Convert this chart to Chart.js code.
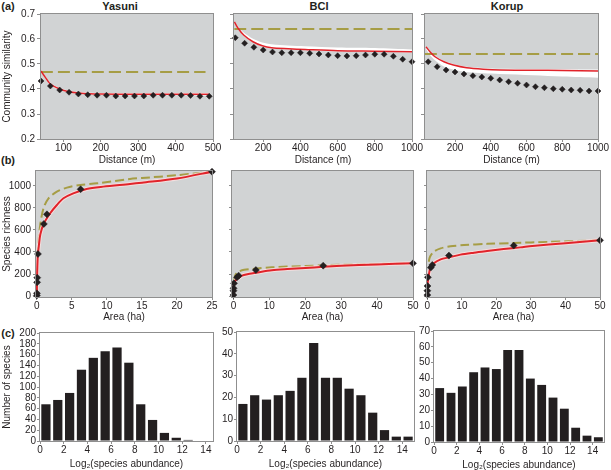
<!DOCTYPE html>
<html>
<head>
<meta charset="utf-8">
<script src="https://cdn.jsdelivr.net/npm/chart.js@4.4.1/dist/chart.umd.min.js"></script>
<style>
html, body { margin: 0; padding: 0; background: #fff; overflow: hidden; }
body { width: 611px; height: 470px; position: relative; font-family: "Liberation Sans", Arial, sans-serif; color: #231f20; }
canvas { position: absolute; }
.lbl { position: absolute; font-weight: bold; font-size: 11px; transform: translate(-50%, -50%); white-space: nowrap; }
</style>
</head>
<body>
<div class="lbl" style="left:8px;top:6px">(a)</div>
<div class="lbl" style="left:120px;top:6px">Yasuni</div>
<div class="lbl" style="left:319px;top:6px">BCI</div>
<div class="lbl" style="left:507px;top:6px">Korup</div>
<div class="lbl" style="left:8px;top:160px">(b)</div>
<div class="lbl" style="left:8px;top:333px">(c)</div>

<canvas id="aYasuni"></canvas>
<canvas id="aBCI"></canvas>
<canvas id="aKorup"></canvas>
<canvas id="bYasuni"></canvas>
<canvas id="bBCI"></canvas>
<canvas id="bKorup"></canvas>
<canvas id="cYasuni"></canvas>
<canvas id="cBCI"></canvas>
<canvas id="cKorup"></canvas>

<script>
// ---- (a) similarity vs distance ----
const distYasuni = [40, 65, 90, 115, 140, 165, 190, 215, 240, 265, 290, 315, 340, 365, 390, 415, 440, 465, 490];
const simYasuni = [0.432, 0.412, 0.396, 0.387, 0.380, 0.377, 0.375, 0.375, 0.372, 0.372, 0.372, 0.372, 0.375, 0.375, 0.375, 0.375, 0.374, 0.371, 0.371];
const distPlot50 = [50, 100, 150, 200, 250, 300, 350, 400, 450, 500, 550, 600, 650, 700, 750, 800, 850, 900, 950, 1000];
const simBCI = [0.605, 0.583, 0.567, 0.556, 0.548, 0.545, 0.545, 0.545, 0.543, 0.540, 0.536, 0.533, 0.532, 0.533, 0.536, 0.539, 0.539, 0.531, 0.519, 0.509];
const simKorup = [0.509, 0.489, 0.476, 0.468, 0.460, 0.453, 0.448, 0.443, 0.436, 0.429, 0.423, 0.416, 0.409, 0.405, 0.401, 0.399, 0.396, 0.395, 0.392, 0.392];

// model fit (red) and its envelope (white)
const fitDistYasuni = [40, 50, 65, 90, 115, 140, 170, 200, 300, 400, 490];
const fitSimYasuni = [0.472, 0.450, 0.420, 0.400, 0.389, 0.384, 0.381, 0.380, 0.379, 0.379, 0.379];
const bandHiYasuni = [0.476, 0.455, 0.425, 0.404, 0.393, 0.388, 0.385, 0.384, 0.383, 0.383, 0.384];
const bandLoYasuni = [0.468, 0.446, 0.416, 0.396, 0.385, 0.380, 0.377, 0.376, 0.375, 0.375, 0.374];

const fitDistBCI = [45, 65, 95, 145, 195, 245, 335, 425, 600, 800, 1000];
const fitSimBCI = [0.669, 0.643, 0.616, 0.589, 0.573, 0.565, 0.561, 0.558, 0.553, 0.551, 0.549];
const bandHiBCI = [0.672, 0.650, 0.626, 0.601, 0.586, 0.579, 0.574, 0.571, 0.566, 0.564, 0.558];
const bandLoBCI = [0.666, 0.640, 0.613, 0.586, 0.570, 0.562, 0.558, 0.555, 0.550, 0.548, 0.546];

const fitDistKorup = [38, 60, 88, 138, 191, 265, 359, 452, 639, 800, 1000];
const fitSimKorup = [0.569, 0.549, 0.529, 0.509, 0.496, 0.485, 0.479, 0.476, 0.475, 0.474, 0.472];
const bandHiKorup = [0.573, 0.553, 0.533, 0.513, 0.500, 0.489, 0.484, 0.481, 0.480, 0.479, 0.478];
const bandLoKorup = [0.560, 0.535, 0.515, 0.490, 0.478, 0.468, 0.463, 0.460, 0.455, 0.450, 0.445];

// random-placement expectation (olive dashed)
const nullDistYasuni = [40, 480];
const nullSimYasuni = [0.468, 0.468];
const nullDistBCI = [45, 1000];
const nullSimBCI = [0.640, 0.640];
const nullDistKorup = [32, 1000];
const nullSimKorup = [0.540, 0.540];

const distTicksYasuni = [100, 200, 300, 400, 500];
const distTicks = [200, 400, 600, 800, 1000];
const simTicks = [0.2, 0.3, 0.4, 0.5, 0.6, 0.7];

// ---- (b) species-area ----
const areaYasuni = [0.0025, 0.01, 0.04, 0.0625, 0.16, 1, 1.44, 6.25, 25];
const richYasuni = [5, 24, 124, 167, 382, 655, 742, 970, 1130];
const areaBCI = [0.0025, 0.01, 0.04, 0.16, 1, 1.44, 6.25, 25, 50];
const richBCI = [9, 48, 70, 115, 170, 185, 236, 276, 297];
const areaKorup = [0.0025, 0.01, 0.04, 0.16, 1, 1.44, 6.25, 25, 50];
const richKorup = [9, 48, 91, 170, 258, 282, 367, 458, 506];

const fitAreaYasuni = [0, 0.03, 0.08, 0.16, 0.3, 0.5, 0.95, 1.9, 2.86, 3.8, 5.2, 7.1, 9.5, 13.3, 15, 20, 25];
const fitRichYasuni = [0, 150, 280, 385, 465, 560, 652, 752, 827, 888, 933, 973, 994, 1018, 1030, 1068, 1130];
const nullAreaYasuni = [0.1, 0.24, 0.48, 0.95, 1.67, 2.86, 4.3, 6.2, 8.6, 13.3, 15, 20, 25];
const nullRichYasuni = [360, 494, 645, 797, 888, 948, 985, 1009, 1024, 1064, 1072, 1098, 1130];

const fitAreaBCI = [0, 0.03, 0.08, 0.16, 0.4, 0.9, 2, 2.9, 4.5, 6.25, 10.7, 15, 20, 25, 30, 40, 50];
const fitRichBCI = [0, 55, 85, 110, 135, 152, 178, 191, 203, 212, 234, 245, 255, 265, 274, 287, 297];
const nullAreaBCI = [0.1, 0.3, 0.6, 1.4, 3, 6, 10.7, 20, 25, 35, 50];
const nullRichBCI = [130, 160, 195, 221, 238, 248, 261, 273, 279, 288, 297];

const fitAreaKorup = [0, 0.03, 0.08, 0.2, 0.5, 0.77, 1.9, 3.85, 6.4, 9.6, 13.5, 17.3, 22.1, 26.9, 30.4, 40, 50];
const fitRichKorup = [0, 70, 110, 150, 205, 242, 297, 333, 352, 376, 394, 409, 427, 442, 455, 479, 506];
const nullAreaKorup = [0.4, 0.77, 1.9, 3.85, 6.7, 10.6, 17.3, 25, 35, 50];
const nullRichKorup = [312, 357, 403, 433, 452, 463, 474, 482, 492, 506];

const areaTicksYasuni = [0, 5, 10, 15, 20, 25];
const areaTicks = [0, 10, 20, 30, 40, 50];
const richTicks = [0, 200, 400, 600, 800, 1000];

// ---- (c) abundance distributions ----
const octaveCentres = [0.5, 1.5, 2.5, 3.5, 4.5, 5.5, 6.5, 7.5, 8.5, 9.5, 10.5, 11.5, 12.5, 13.5, 14.5];
const sppYasuni = [68, 76, 89, 132, 154, 166, 173, 145, 68, 39, 15, 6, 2, 0, 0];
const sppBCI = [17, 21, 19, 21, 23, 29, 45, 29, 29, 24, 21, 13, 5, 2, 2];
const sppKorup = [34, 31, 35, 44, 47, 46, 58, 58, 40, 36, 28, 21, 9, 4, 3];
const octaveTicks = [0, 2, 4, 6, 8, 10, 12, 14];
const sppTicksYasuni = [0, 20, 40, 60, 80, 100, 120, 140, 160, 180, 200];
const sppTicksBCI = [0, 10, 20, 30, 40, 50];
const sppTicksKorup = [0, 10, 20, 30, 40, 50, 60, 70];

// ---- styling ----
const GRAY = '#d1d3d4', FRAME = '#8f8f8f', RED = '#e1232a', OLIVE = '#a69d45', INK = '#231f20';
Chart.defaults.font.family = '"Liberation Sans", Arial, sans-serif';
Chart.defaults.font.size = 10;
Chart.defaults.color = INK;

// plot background and box
Chart.register({
  id: 'frame',
  beforeDraw(chart, args, opts) {
    const a = chart.chartArea, ctx = chart.ctx;
    ctx.save();
    ctx.fillStyle = opts.bg || '#fff';
    ctx.fillRect(a.left, a.top, a.right - a.left, a.bottom - a.top);
    ctx.restore();
  },
  afterDraw(chart) {
    const a = chart.chartArea, ctx = chart.ctx;
    ctx.save();
    ctx.strokeStyle = FRAME;
    ctx.lineWidth = 1;
    ctx.strokeRect(Math.round(a.left) - 0.5, Math.round(a.top) - 0.5, Math.round(a.right - a.left) + 1, Math.round(a.bottom - a.top) + 1);
    ctx.restore();
  }
});

const xy = (xs, ys) => xs.map((x, i) => ({x: x, y: ys[i]}));

function axis(a, size, horizontal) {
  return {
    type: 'linear',
    position: horizontal ? 'bottom' : 'left',
    min: a.min, max: a.max, offset: false,
    border: {display: false},
    grid: {display: true, drawOnChartArea: false, drawTicks: true, tickLength: a.tl || 3, color: FRAME, offset: false},
    ticks: {display: a.labels !== false, padding: a.pad || 0, autoSkip: false, maxRotation: 0, minRotation: 0,
            color: INK, font: {size: 10}, callback: a.fmt || (v => String(v))},
    afterBuildTicks: s => { s.ticks = a.ticks.map(v => ({value: v})); },
    afterFit: s => { if (horizontal) s.height = size; else s.width = size; },
    title: {display: !!a.title, text: a.title || '', color: INK, font: {size: 10},
            padding: horizontal ? {top: 0, bottom: 0} : {top: 1, bottom: 0}}
  };
}

function panel(id, box, pad, cfg) {
  const cv = document.getElementById(id);
  cv.width = box.r - box.l + pad.l + pad.r;
  cv.height = box.b - box.t + pad.t + pad.b;
  cv.style.left = (box.l - pad.l) + 'px';
  cv.style.top = (box.t - pad.t) + 'px';
  return new Chart(cv, {
    type: cfg.type,
    data: {datasets: cfg.datasets},
    options: {
      responsive: false, animation: false, events: [],
      layout: {padding: {left: 0, top: pad.t, right: pad.r, bottom: 0}},
      plugins: {legend: {display: false}, tooltip: {enabled: false}, frame: {bg: cfg.bg}},
      scales: {x: axis(cfg.x, pad.b, true), y: axis(cfg.y, pad.l, false)}
    }
  });
}

const dots = (xs, ys, r) => ({data: xy(xs, ys), showLine: false, pointStyle: 'rectRot', pointRadius: r,
  pointBackgroundColor: INK, pointBorderColor: INK, pointBorderWidth: 0.5, clip: false});
const redLine = (xs, ys, w) => ({data: xy(xs, ys), showLine: true, borderColor: RED, borderWidth: w, pointRadius: 0, tension: 0.3});
const halo = (xs, ys) => ({data: xy(xs, ys), showLine: true, borderColor: 'rgba(255,225,225,0.75)', borderWidth: 4, pointRadius: 0, tension: 0.3});
const dashed = (xs, ys, dash) => ({data: xy(xs, ys), showLine: true, borderColor: OLIVE, borderWidth: 2, borderDash: dash, pointRadius: 0, tension: 0.3});
const bandHi = (xs, ys) => ({data: xy(xs, ys), showLine: true, borderWidth: 0, borderColor: 'rgba(0,0,0,0)', pointRadius: 0, fill: '+1', backgroundColor: '#ffffff', tension: 0.3});
const bandLo = (xs, ys) => ({data: xy(xs, ys), showLine: true, borderWidth: 0, borderColor: 'rgba(0,0,0,0)', pointRadius: 0, tension: 0.3});
const bars = (ys) => ({data: xy(octaveCentres, ys), backgroundColor: INK, borderWidth: 0, barPercentage: 0.78, categoryPercentage: 1});

const fmt1 = v => v.toFixed(1);
const simAxis = (labels, title) => ({min: 0.2, max: 0.7, ticks: simTicks, labels: labels, fmt: fmt1, tl: 4, pad: 2, title: title});
const richAxis = (labels, title) => ({min: -9, max: 1136, ticks: richTicks, labels: labels, tl: 3, pad: 2, title: title});

// row (a)
const padA = (l) => ({l: l, r: 12, t: 8, b: 27});
panel('aYasuni', {l: 41, t: 14, r: 213, b: 139}, padA(41), {
  type: 'scatter', bg: GRAY,
  x: {min: 40, max: 500, ticks: distTicksYasuni, title: 'Distance (m)'},
  y: simAxis(true, 'Community similarity'),
  datasets: [dots(distYasuni, simYasuni, 3), redLine(fitDistYasuni, fitSimYasuni, 1.5),
             dashed(nullDistYasuni, nullSimYasuni, [12, 5]),
             bandHi(fitDistYasuni, bandHiYasuni), bandLo(fitDistYasuni, bandLoYasuni)]
});
panel('aBCI', {l: 234, t: 14, r: 412, b: 139}, padA(12), {
  type: 'scatter', bg: GRAY,
  x: {min: 43, max: 1000, ticks: distTicks, title: 'Distance (m)'},
  y: simAxis(false, ''),
  datasets: [dots(distPlot50, simBCI, 3), redLine(fitDistBCI, fitSimBCI, 1.5),
             dashed(nullDistBCI, nullSimBCI, [12, 5]),
             bandHi(fitDistBCI, bandHiBCI), bandLo(fitDistBCI, bandLoBCI)]
});
panel('aKorup', {l: 425, t: 14, r: 598, b: 139}, padA(12), {
  type: 'scatter', bg: GRAY,
  x: {min: 32, max: 1000, ticks: distTicks, title: 'Distance (m)'},
  y: simAxis(false, ''),
  datasets: [dots(distPlot50, simKorup, 3), redLine(fitDistKorup, fitSimKorup, 1.5),
             dashed(nullDistKorup, nullSimKorup, [12, 5]),
             bandHi(fitDistKorup, bandHiKorup), bandLo(fitDistKorup, bandLoKorup)]
});

// row (b)
const padB = (l) => ({l: l, r: 12, t: 8, b: 26});
panel('bYasuni', {l: 36, t: 171, r: 212, b: 297}, padB(36), {
  type: 'scatter', bg: GRAY,
  x: {min: -0.12, max: 25, ticks: areaTicksYasuni, title: 'Area (ha)'},
  y: richAxis(true, 'Species richness'),
  datasets: [dots(areaYasuni, richYasuni, 3.5), redLine(fitAreaYasuni, fitRichYasuni, 2),
             halo(fitAreaYasuni, fitRichYasuni), dashed(nullAreaYasuni, nullRichYasuni, [9, 4])]
});
panel('bBCI', {l: 232, t: 171, r: 413, b: 297}, padB(12), {
  type: 'scatter', bg: GRAY,
  x: {min: -0.4, max: 50, ticks: areaTicks, title: 'Area (ha)'},
  y: richAxis(false, ''),
  datasets: [dots(areaBCI, richBCI, 3.5), redLine(fitAreaBCI, fitRichBCI, 2),
             halo(fitAreaBCI, fitRichBCI), dashed(nullAreaBCI, nullRichBCI, [9, 4])]
});
panel('bKorup', {l: 427, t: 171, r: 600, b: 297}, padB(12), {
  type: 'scatter', bg: GRAY,
  x: {min: -0.1, max: 50, ticks: areaTicks, title: 'Area (ha)'},
  y: richAxis(false, ''),
  datasets: [dots(areaKorup, richKorup, 3.5), redLine(fitAreaKorup, fitRichKorup, 2),
             halo(fitAreaKorup, fitRichKorup), dashed(nullAreaKorup, nullRichKorup, [9, 4])]
});

// row (c)
const padC = (l) => ({l: l, r: 12, t: 8, b: 29});
const logTitle = 'Log\u2082(species abundance)';
panel('cYasuni', {l: 40, t: 333, r: 213, b: 441}, padC(40), {
  type: 'bar', bg: '#ffffff',
  x: {min: 0, max: 14.6, ticks: octaveTicks, title: logTitle},
  y: {min: 0, max: 200, ticks: sppTicksYasuni, tl: 3, pad: 1, title: 'Number of species'},
  datasets: [bars(sppYasuni)]
});
panel('cBCI', {l: 237, t: 332, r: 414, b: 441}, padC(32), {
  type: 'bar', bg: '#ffffff',
  x: {min: 0, max: 15, ticks: octaveTicks, title: logTitle},
  y: {min: 0, max: 50, ticks: sppTicksBCI, tl: 3, pad: 1},
  datasets: [bars(sppBCI)]
});
panel('cKorup', {l: 434, t: 331, r: 604, b: 442}, padC(32), {
  type: 'bar', bg: '#ffffff',
  x: {min: 0, max: 15, ticks: octaveTicks, title: logTitle},
  y: {min: 0, max: 70, ticks: sppTicksKorup, tl: 3, pad: 1},
  datasets: [bars(sppKorup)]
});
</script>
</body>
</html>
